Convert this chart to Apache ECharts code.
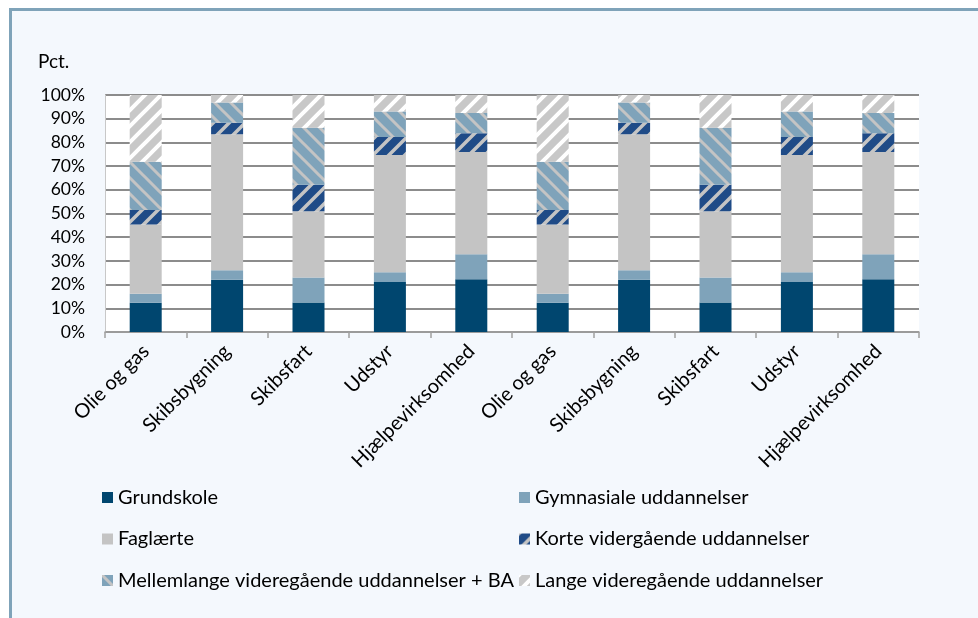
<!DOCTYPE html>
<html>
<head>
<meta charset="utf-8">
<script src="https://cdn.jsdelivr.net/npm/echarts@6/dist/echarts.min.js"></script>
<style>
html,body{margin:0;padding:0;background:#fff;width:978px;height:618px;overflow:hidden;}
#frame{position:absolute;left:9px;top:8px;width:1000px;height:700px;border-left:3px solid #7fa3b9;border-top:3px solid #7fa3b9;background:#f4f8fd;}
#main{position:absolute;left:0;top:0;width:978px;height:618px;}
</style>
</head>
<body>
<div id="frame"></div>
<div id="main"></div>
<script>
var categories = ['Olie og gas','Skibsbygning','Skibsfart','Udstyr','Hjælpevirksomhed','Olie og gas','Skibsbygning','Skibsfart','Udstyr','Hjælpevirksomhed'];
var seriesNames = ['Grundskole','Gymnasiale uddannelser','Faglærte','Korte vidergående uddannelser','Mellemlange videregående uddannelser + BA','Lange videregående uddannelser'];
var grundskole  = [12.3, 22.0, 12.5, 21.1, 22.3, 12.3, 22.0, 12.5, 21.1, 22.3];
var gymnasiale  = [3.8, 4.1, 10.5, 4.1, 10.5, 3.8, 4.1, 10.5, 4.1, 10.5];
var faglaerte   = [29.3, 57.3, 28.0, 49.5, 43.2, 29.3, 57.3, 28.0, 49.5, 43.2];
var korte       = [6.1, 4.9, 11.1, 7.6, 7.9, 6.1, 4.9, 11.1, 7.6, 7.9];
var mellemlange = [20.3, 8.5, 24.1, 10.7, 8.5, 20.3, 8.5, 24.1, 10.7, 8.5];
var lange       = [28.2, 3.2, 13.8, 7.0, 7.6, 28.2, 3.2, 13.8, 7.0, 7.6];
var yTicks = [0,10,20,30,40,50,60,70,80,90,100];

function stripe(bg, fg, w, dir){
  var s = 16;
  var c = document.createElement('canvas');
  c.width = s; c.height = s;
  var g = c.getContext('2d');
  g.fillStyle = bg; g.fillRect(0,0,s,s);
  g.strokeStyle = fg; g.lineWidth = w; g.lineCap = 'square';
  g.beginPath();
  if (dir === '/') {
    g.moveTo(0,s); g.lineTo(s,0);
    g.moveTo(-s/2,s/2); g.lineTo(s/2,-s/2);
    g.moveTo(s/2,s*1.5); g.lineTo(s*1.5,s/2);
  } else {
    g.moveTo(0,0); g.lineTo(s,s);
    g.moveTo(-s/2,s/2); g.lineTo(s/2,s*1.5);
    g.moveTo(s/2,-s/2); g.lineTo(s*1.5,s/2);
  }
  g.stroke();
  return {image: c, repeat: 'repeat'};
}

var colors = [
  '#00466f',
  '#7fa3ba',
  '#c4c4c4',
  stripe('#1f4b87', '#c4c4c4', 3.5, '/'),
  stripe('#7fa3ba', '#c4c4c4', 3, '\\'),
  stripe('#c8c8c8', '#ffffff', 4, '/')
];
var dataArr = [grundskole, gymnasiale, faglaerte, korte, mellemlange, lange];

var font = 'Lato, "Open Sans", sans-serif';
var chart = echarts.init(document.getElementById('main'), null, {renderer:'canvas'});
var series = seriesNames.map(function(n,i){
  return {
    name: n, type: 'bar', stack: 'total', barWidth: 32,
    data: dataArr[i], itemStyle: {color: colors[i]}, emphasis:{disabled:true}
  };
});
var legendCommon = {
  orient: 'vertical', itemWidth: 11, itemHeight: 11, itemGap: 21.5, padding: 0,
  icon: 'rect', selectedMode: false,
  textStyle: {fontFamily: font, fontSize: 20, lineHeight: 20, color: '#000'}
};
chart.setOption({
  animation: false,
  backgroundColor: 'transparent',
  graphic: [{type:'text', left: 38, top: 52, style:{text:'Pct.', fontFamily: font, fontSize: 19, fill:'#000'}}],
  grid: {left: 105, right: 59, top: 95, bottom: 286, show: true, backgroundColor: '#fff', borderWidth: 0},
  legend: [
    Object.assign({left: 102, top: 487.5, data: [seriesNames[0], seriesNames[2], seriesNames[4]]}, legendCommon),
    Object.assign({left: 519, top: 487.5, data: [seriesNames[1], seriesNames[3], seriesNames[5]]}, legendCommon)
  ],
  xAxis: {
    type: 'category', data: categories,
    axisLine: {lineStyle: {color: '#a0a0a0', width: 1.5}},
    axisTick: {show: true, interval: 0, length: 6, lineStyle: {color: '#a0a0a0', width: 1.5}},
    axisLabel: {interval: 0, rotate: 45, margin: 16, fontFamily: font, fontSize: 20, color: '#000'}
  },
  yAxis: {
    type: 'value', min: 0, max: 100, interval: 10,
    axisLine: {show: true, lineStyle: {color: '#c8c8c8', width: 1}},
    axisTick: {show: false},
    splitLine: {lineStyle: {color: '#8c8c8c', width: 2}},
    axisLabel: {formatter: function(v){ return yTicks.indexOf(v) >= 0 ? v + '%' : ''; }, margin: 20, fontFamily: font, fontSize: 17.5, color: '#000'}
  },
  series: series
});
</script>
</body>
</html>
